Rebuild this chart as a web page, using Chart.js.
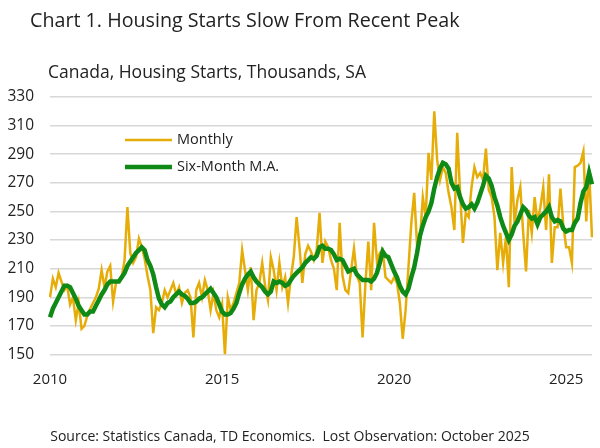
<!DOCTYPE html>
<html>
<head>
<meta charset="utf-8">
<script src="https://cdn.jsdelivr.net/npm/chart.js@4.4.0/dist/chart.umd.min.js"></script>
<style>
body { margin: 0; background: #fff; }
#wrap { position: relative; width: 600px; height: 448px; font-family: "Open Sans", sans-serif; color: #222; }
#titulo { position: absolute; left: 30px; top: 6px; font-size: 19.7px; white-space: nowrap; }
#sub { position: absolute; left: 48px; top: 59px; font-size: 17.5px; white-space: nowrap; }
#fuente { position: absolute; left: 0; width: 580px; top: 426px; font-size: 14px; text-align: center; white-space: nowrap; }
canvas { position: absolute; left: 0; top: 0; }
</style>
</head>
<body>
<div id="wrap">
  <canvas id="grafico" width="600" height="448"></canvas>
  <div id="titulo">Chart 1. Housing Starts Slow From Recent Peak</div>
  <div id="sub">Canada, Housing Starts, Thousands, SA</div>
  <div id="fuente">Source: Statistics Canada, TD Economics.&nbsp; Lost Observation: October 2025</div>
</div>
<script>
// monthly housing starts, thousands SAAR, Jan 2010 - Oct 2025
var primerAnio = 2010;
var ultimoMes = 10; // octubre 2025
var aniosEtiqueta = ['2010', '2015', '2020', '2025'];
var nombres = ['Monthly', 'Six-Month M.A.'];

var mensual = [
    190, 203, 197, 207, 201, 195, 198, 185, 190, 174, 186, 168,
    170, 177, 182, 186, 190, 196, 209, 197, 208, 212, 187, 200,
    201, 204, 216, 253, 221, 214, 218, 231, 225, 217, 205, 195,
    165, 183, 181, 186, 195, 190, 195, 200, 192, 197, 186, 193,
    195, 190, 162, 195, 200, 190, 202, 195, 181, 193, 181, 176,
    185, 150, 190, 181, 186, 193, 200, 223, 209, 195, 211, 174,
    195, 200, 214, 198, 188, 218, 209, 195, 214, 197, 204, 186,
    204, 218, 246, 225, 200, 220, 226, 222, 216, 223, 249, 214,
    229, 225, 216, 210, 195, 242, 205, 195, 193, 209, 224, 205,
    200, 162, 200, 229, 195, 242, 215, 221, 223, 204, 202, 200,
    204, 200, 186, 161, 181, 211, 242, 263, 226, 230, 260, 246,
    291, 272, 320, 286, 272, 281, 277, 263, 253, 237, 305, 263,
    228, 249, 246, 267, 281, 274, 277, 272, 294, 265, 260, 246,
    209, 235, 214, 232, 197, 281, 242, 258, 267, 235, 208, 251,
    235, 260, 242, 253, 267, 237, 276, 214, 239, 239, 266, 240,
    225, 225, 214, 281, 282, 284, 292, 243, 279, 232
];

var promedio6 = [
    176, 182, 186, 190, 194, 198, 198, 197, 193, 189, 184, 181,
    178, 178, 180, 180, 184, 188, 192, 195, 199, 201, 201, 201,
    201, 204, 207, 212, 215, 218, 221, 223, 225, 223, 216, 212,
    206, 197, 189, 185, 183, 186, 187, 190, 192, 194, 192, 191,
    189, 186, 186, 187, 189, 190, 192, 194, 196, 193, 190, 185,
    180, 178, 178, 179, 182, 186, 193, 199, 203, 206, 208, 204,
    201, 199, 197, 194, 192, 194, 201, 200, 201, 200, 198, 199,
    202, 205, 207, 209, 211, 214, 216, 218, 217, 219, 225, 226,
    224, 224, 223, 220, 216, 217, 216, 212, 208, 209, 210, 206,
    204, 202, 202, 202, 201, 203, 207, 214, 222, 219, 218, 213,
    208, 204, 198, 194, 192, 196, 204, 211, 221, 233, 240, 246,
    250, 256, 266, 274, 280, 284, 283, 280, 270, 266, 267, 260,
    255, 252, 253, 255, 252, 256, 262, 268, 275, 273, 268, 260,
    254, 246, 240, 235, 230, 234, 240, 243, 248, 253, 251, 247,
    245, 246, 241, 246, 248, 250, 253, 246, 243, 244, 243, 238,
    236, 237, 237, 242, 245, 256, 264, 267, 277, 269
];

var colorMensual = '#e6ad08';
var colorPromedio = '#0f8a16';

var meses = [];
for (let anio = primerAnio; anio <= 2025; anio++) {
    for (let mes = 1; mes <= 12; mes++) {
        if (anio == 2025 && mes > ultimoMes) break;
        meses.push(anio + '-' + (mes < 10 ? '0' + mes : mes));
    }
}

var leyenda = {
    id: 'leyenda',
    afterDatasetsDraw: function (chart) {
        var ctx = chart.ctx;
        ctx.save();
        ctx.lineCap = 'butt';
        ctx.strokeStyle = colorMensual;
        ctx.lineWidth = 2.5;
        ctx.beginPath(); ctx.moveTo(125, 140); ctx.lineTo(172, 140); ctx.stroke();
        ctx.strokeStyle = colorPromedio;
        ctx.lineWidth = 4.5;
        ctx.beginPath(); ctx.moveTo(125, 167); ctx.lineTo(172, 167); ctx.stroke();
        ctx.fillStyle = '#222';
        ctx.font = '14.5px "Open Sans"';
        ctx.textBaseline = 'middle';
        ctx.fillText(nombres[0], 177, 140);
        ctx.fillText(nombres[1], 177, 167);
        ctx.restore();
    }
};

var ctx = document.getElementById('grafico').getContext('2d');
var grafico = new Chart(ctx, {
    type: 'line',
    data: {
        labels: meses,
        datasets: [{
            label: nombres[0],
            data: mensual,
            borderColor: colorMensual,
            borderWidth: 2.5,
            pointRadius: 0,
            tension: 0,
            order: 2
        }, {
            label: nombres[1],
            data: promedio6,
            borderColor: colorPromedio,
            borderWidth: 4.5,
            pointRadius: 0,
            tension: 0,
            order: 1
        }]
    },
    options: {
        responsive: false,
        animation: false,
        layout: { padding: { top: 97, right: 5, left: 0, bottom: 0 } },
        plugins: { legend: { display: false }, tooltip: { enabled: false } },
        scales: {
            x: {
                grid: { display: false },
                border: { display: false },
                ticks: {
                    autoSkip: false,
                    maxRotation: 0,
                    padding: 8,
                    color: '#222',
                    font: { family: 'Open Sans', size: 15 },
                    callback: function (val, i) {
                        var m = meses[i];
                        if (m.slice(5) == '01' && aniosEtiqueta.indexOf(m.slice(0, 4)) >= 0) return m.slice(0, 4);
                        return '';
                    }
                },
                afterFit: function (scale) { scale.height = 93.5; }
            },
            y: {
                min: 150,
                max: 330,
                grid: { color: '#d8d8d8', lineWidth: 1.5, drawTicks: false },
                border: { display: false },
                ticks: {
                    stepSize: 20,
                    padding: 16,
                    color: '#222',
                    font: { family: 'Open Sans', size: 15.5 }
                },
                afterFit: function (scale) { scale.width = 50; }
            }
        }
    },
    plugins: [leyenda]
});
</script>
</body>
</html>
